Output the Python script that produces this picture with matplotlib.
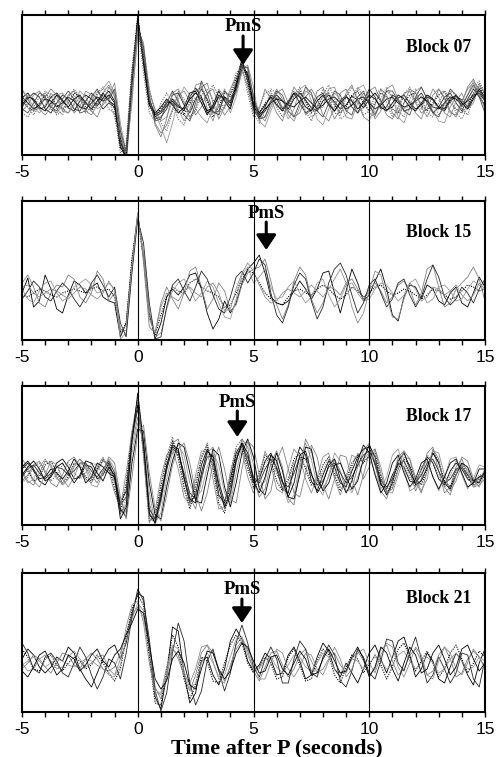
import numpy as np
import matplotlib.pyplot as plt

# time axis of the traces, seconds after P (0.25 s samples)
t = np.arange(-5, 15.001, 0.25)

block_names = ["Block 07", "Block 15", "Block 17", "Block 21"]
pms_time = [4.55, 5.55, 4.3, 4.5]

# amplitudes (arbitrary units), one list per trace
block07 = [
    [5, 10, 2, -6, -4, 6, 10, 3, -5, -8, 2, 8, 4, -3, 5, 12, 2, -35, -52, 25,
     82, 42, 2, -14, -10, -3, 4, -2, -8, 6, 15, 6, -10, -6, 8, 4, -3, 18, 38, 26,
     -2, -14, -8, 2, 8, 2, -6, 4, 10, 3, -5, -8, 2, 8, 1, -6, -2, 7, 3, -5,
     4, 10, 2, -7, -4, 5, 8, 0, -6, -2, 6, 3, -5, -8, 2, 7, 3, -4, 6, 12, 4],
    [-8, -2, 8, 12, 4, -6, -10, -2, 8, 12, 4, -8, -12, -2, 10, 18, 8, -30, -55, 10,
     70, 50, 8, -20, -30, -22, -6, 8, 12, 2, -12, -4, 10, 14, -2, -12, -4, 12, 30, 32,
     8, -12, -18, -4, 10, 14, 0, -14, -10, 6, 14, 4, -12, -18, -4, 10, 14, 2, -10, -4,
     12, 16, 2, -12, -16, -4, 10, 12, 0, -10, -6, 8, 14, 4, -10, -12, 2, 14, 20, 8, -4],
    [2, -4, -8, 0, 8, 6, -2, -6, 0, 10, 6, -4, -8, 0, 8, 4, -6, -45, -48, 30,
     88, 38, -4, -12, -6, 2, 0, -8, -12, 0, 12, 16, 2, -14, -4, 10, 8, 24, 42, 20,
     -8, -10, 0, 6, 0, -8, -4, 8, 12, 2, -10, -4, 6, 10, -2, -10, -4, 8, 12, 0,
     -8, 0, 10, 6, -6, -10, 0, 8, 10, -2, -8, 0, 8, 12, 0, -6, -10, -2, 10, 16, 8],
    [12, 6, -4, -10, -2, 10, 4, -8, -10, 0, 12, 6, -4, 8, 14, 22, 10, -25, -60, 5,
     65, 55, 15, -10, -24, -40, -20, 4, 16, 8, -6, -14, -20, -4, 14, 6, -10, 6, 32, 38,
     16, -18, -24, -8, 6, -4, -16, -6, 14, 18, 2, -16, -22, -6, 10, 4, -8, -2, 14, 18,
     4, -10, -2, 12, 6, -14, -20, -4, 12, 16, 4, -8, -18, -20, -4, 6, -2, 8, 22, 14, 6],
    [-4, 4, 10, 6, -6, -10, 0, 8, 4, -6, -8, 2, 10, 4, -6, 0, -4, -40, -50, 20,
     78, 44, 0, -16, -14, -6, 8, 10, -2, -10, 4, 14, 4, -10, -8, 6, 2, 14, 36, 30,
     -6, -16, -4, 8, 4, -6, 2, 10, 0, -10, -6, 6, 10, 0, -8, 2, 8, -4, -10, 2,
     14, 6, -6, -4, 8, 4, -8, -6, 4, 10, 0, -10, -4, 6, 10, 0, -8, 4, 14, 6, -2],
    [0, 8, 4, -6, -12, -4, 8, 10, 0, -10, -4, 12, 8, -6, -2, 6, 20, -20, -50, 0,
     74, 60, 10, -6, -18, -14, 2, -6, -18, -8, 18, 20, -6, -18, 2, 14, 0, 10, 40, 34,
     4, -8, -14, 2, 14, 4, -12, -18, -4, 12, 8, -6, -4, 14, 16, 0, -14, -16, 0, 10,
     0, -16, -8, 14, 18, 4, -6, 2, -10, -16, 0, 14, 6, -10, -14, 2, 10, -6, 0, 18, 10],
    [6, 0, -6, -2, 4, 2, -4, 0, 6, 2, -4, -6, 0, 6, 2, 8, 0, -38, -56, 18,
     84, 48, 4, -12, -8, 0, 2, -4, -6, 4, 10, 4, -8, -4, 6, 6, 0, 20, 44, 22,
     -4, -12, -6, 0, 4, 2, -2, -4, 2, 6, 0, -6, -2, 4, 6, 0, -6, -2, 4, 6,
     0, -6, -2, 4, 6, 0, -4, -2, 2, 6, 2, -4, -6, 0, 6, 4, -2, 2, 8, 10, 2],
    [-10, -14, -4, 6, 10, 0, -12, -8, 6, 14, 6, -2, 2, 12, 6, -6, -10, -50, -42, 35,
     80, 30, -10, -18, 0, 10, 0, -16, -22, -6, 6, 0, 8, 18, 6, -6, 10, 30, 36, 10,
     -14, -4, 10, 12, -4, -14, -2, 12, 6, -8, -18, -4, 14, 6, -10, -12, 6, 16, 4, -12,
     -8, 8, 14, 0, -14, -8, 8, 16, 2, -6, 8, 4, -12, -4, 12, 8, -6, -12, 6, 20, 12],
    [14, 4, -8, -4, 6, 14, 8, -6, -10, -2, 6, 2, -8, -14, 0, 16, 6, -42, -58, 12,
     72, 52, 6, -22, -34, -16, 10, 14, 0, -14, -6, 16, 20, 0, -16, -4, 14, 26, 34, 16,
     -10, -6, 14, 4, -10, -18, 0, 16, 8, -12, -6, 12, 16, -2, -16, -6, 10, 18, 2, -14,
     -18, -2, 14, 8, -10, -16, 0, 14, 10, -4, -14, -2, 14, 6, -8, -14, 0, 16, 24, 10, -6],
    [-2, 6, 4, -4, -8, 0, 8, 2, -4, 4, 8, 0, -6, 2, 10, 2, -2, -44, -54, 22,
     86, 40, -2, -10, -4, 4, -2, -10, -4, 10, 12, 0, -12, -2, 12, 2, -6, 16, 40, 28,
     0, -10, -2, 6, -2, -8, 0, 10, 6, -4, -8, 2, 8, -2, -8, 0, 6, 2, -6, 0,
     8, 4, -4, -8, 0, 8, 4, -4, -8, 0, 8, 4, -4, -6, 4, 8, 0, -6, 4, 14, 6],
    [8, -4, -12, -2, 12, 8, -6, -12, 2, 8, -2, -10, -4, 10, 16, 4, -14, -36, -52, 24,
     76, 46, 12, -8, -20, -28, -8, 12, 4, -16, -8, 8, 14, 4, -12, -2, 2, 22, 40, 24,
     -10, -20, -6, 14, 10, -6, -10, 6, 16, 0, -14, -10, 8, 18, 4, -16, -12, 4, 16, 6,
     -10, -14, 4, 16, 6, -8, -14, 4, 14, 6, -10, -14, 0, 12, 6, -10, -16, -4, 16, 22, 4],
    [-6, -10, 0, 10, 6, -4, -8, 4, 12, 4, -10, -8, 6, 14, 2, 4, 14, -28, -48, 28,
     78, 56, 4, -18, -16, 0, 12, 2, -12, -18, 0, 22, 10, -8, -12, 12, 6, 12, 34, 36,
     6, -16, -14, 0, 12, 8, -8, -14, 0, 16, 10, -8, -14, 0, 12, 8, -8, -12, 6, 12,
     -2, -12, 0, 12, 12, 2, -8, -12, 6, 16, 4, -10, -14, 0, 14, 8, -4, 8, 18, 6, -10],
]

block15 = [
    [0, 15, -14, -8, 18, 4, -16, -20, -2, 12, 8, 0, 6, 10, -4, -8, -10, -44, -30, 30,
     78, 38, -20, -46, -30, -4, 4, -2, 6, 18, 20, 4, -20, -36, -26, -8, -20, -10, 10, 24,
     30, 38, 20, -4, -10, -12, -8, 2, 12, 4, -6, 4, 20, 22, 0, -20, 2, 24, 10, -8,
     -2, 12, 24, 4, -22, -28, -4, 8, 6, -6, 8, 4, -8, -12, 0, 6, -10, -14, 0, 16, 6],
    [10, 18, 6, -10, -14, 0, 8, 6, 18, 14, -4, -10, 0, 22, 14, -8, 0, -36, -38, 32,
     80, 30, -34, -40, -10, 6, -6, -16, 0, 22, 26, 6, -16, -6, 10, 2, -18, -12, 8, 20,
     24, 26, 34, 12, -12, -26, -12, 12, 26, 18, -6, -20, -10, 6, 4, -2, 10, 14, 4, -6,
     4, 10, 2, -10, -4, 8, 12, 4, -12, 0, 24, 28, 6, -14, -10, 4, 10, 16, 26, 14, -8],
    [-2, -4, 0, 4, 2, -2, -4, 0, 2, 4, 2, 0, 4, 6, 2, 4, -4, -40, -30, 34,
     76, 36, -22, -42, -22, -4, 6, 2, 0, 10, 14, 6, 2, 0, -4, -14, -12, 0, 14, 22,
     20, 10, 0, -6, -10, -12, -4, 2, 4, 0, -2, 4, 8, 4, -2, -6, -2, 6, 2, -4,
     0, 6, 8, 2, -2, 0, 4, 2, -2, -6, -2, 4, 2, -2, -6, -4, 2, 8, 6, 2, 4],
    [4, -6, -10, 2, 10, 12, 0, -8, -4, 6, 10, 14, 8, 0, 2, 10, 4, -46, -40, 24,
     76, 40, -18, -44, -40, -16, 2, 10, 14, 4, -8, 0, 12, 6, -10, -24, -26, -6, 18, 26,
     10, 16, 24, 6, -6, -4, 6, 12, 0, -10, -4, 10, 14, -2, -14, -6, 8, 10, 0, -8,
     -6, 4, 10, 8, 0, -8, -2, 10, 14, 2, -10, -6, 6, 8, 2, -8, -6, 4, 12, 8, 2],
    [-6, 2, 12, 6, -4, -8, 2, 10, 4, -6, -14, -4, 10, 18, 8, -4, 6, -30, -44, 20,
     74, 50, -10, -46, -44, -14, 8, 14, 2, -8, 6, 22, 14, -2, -16, -20, -4, 16, 22, 10,
     20, 34, 28, 0, -22, -30, -14, 8, 20, 14, -8, -26, -14, 10, 24, 30, 18, -2, -20, -10,
     8, 14, 0, -14, -6, 10, 14, -2, -14, -4, 14, 28, 16, -4, -12, -6, 6, 0, -10, 4, 14],
    [6, 8, 0, -4, 0, 4, 2, -2, -6, 0, 6, 4, -2, -6, 0, 12, 2, -38, -32, 28,
     80, 34, -26, -40, -14, 0, -4, -8, 2, 6, 0, -4, 6, 10, 0, -18, -16, 4, 20, 30,
     22, 8, -4, -10, -8, 0, 4, 0, -4, 2, 8, 2, -4, 4, 14, 24, 10, -14, -30, -20,
     2, 22, 18, -4, -24, -26, -6, 10, 4, -8, -4, 6, 4, -2, 2, 8, -2, -8, -2, 10, 4],
]

block17 = [
    [4, 10, 2, -8, -12, -2, 10, 14, 6, -6, -4, 8, 6, -6, -2, 10, -6, -30, -18, 38,
     68, 24, -42, -48, -20, 6, 26, 22, -6, -30, -22, 8, 24, 12, -22, -30, -6, 20, 30, 10,
     -10, -6, 12, 20, 4, -16, -20, 6, 26, 18, -8, -18, -2, 12, 6, -10, -14, 2, 16, 24,
     26, 8, -12, -16, -2, 10, 6, -8, -10, 4, 16, 10, -6, -12, 2, 10, 4, -6, -10, -4, 0],
    [-8, -2, 8, 12, 2, -10, -14, -2, 12, 16, 6, -6, -10, 2, 12, 8, -8, -40, -32, 28,
     56, 30, -30, -52, -30, 2, 30, 34, 8, -24, -36, -8, 20, 26, -4, -36, -24, 10, 34, 26,
     -6, -24, -16, 10, 22, 6, -26, -32, 4, 34, 22, -6, -16, -4, 14, 2, -18, -16, 6, 22,
     30, 10, -18, -26, -6, 16, 22, 2, -18, -6, 20, 26, 2, -20, -14, 6, 14, 0, -14, -8, 4],
    [10, 2, -8, -4, 8, 12, 0, -10, -4, 10, 8, -4, -8, 4, 14, 6, -16, -38, -10, 40,
     72, 20, -48, -44, -12, 14, 32, 16, -14, -36, -14, 16, 28, 4, -30, -40, -10, 18, 26, 4,
     -14, 0, 18, 12, -8, -18, -6, 14, 20, 4, -12, -8, 8, 16, -2, -18, -8, 10, 18, 10,
     18, 20, -4, -20, -14, 4, 14, 8, -6, -12, 4, 20, 12, -8, -14, 2, 10, -4, -12, -6, -4],
    [0, -10, -6, 6, 14, 6, -6, -10, 0, 8, 14, 4, -12, -14, 0, 14, 4, -28, -40, 20,
     50, 34, -20, -50, -40, -6, 20, 28, 18, -10, -24, -18, 6, 20, 8, -20, -30, 0, 28, 32,
     8, -14, -8, 18, 14, -10, -30, -22, 10, 30, 14, -14, -22, -2, 20, 12, -8, -20, -4, 14,
     20, 0, -16, -4, 18, 24, 4, -18, -14, 6, 12, -4, -18, -4, 14, 16, -2, -16, -6, 8, 6],
    [-4, 4, 8, 0, -6, 0, 6, 4, -2, 2, 10, 10, 2, -4, 4, 12, 0, -32, -24, 34,
     64, 28, -36, -46, -24, 4, 24, 20, 0, -20, -26, -4, 16, 18, -10, -28, -14, 14, 28, 16,
     -4, -10, 4, 14, 6, -10, -14, 0, 16, 14, -2, -12, -8, 6, 10, 0, -10, -4, 8, 18,
     22, 10, -8, -14, -6, 8, 12, 0, -10, -2, 10, 14, 2, -10, -6, 4, 6, -2, -8, -4, -2],
    [14, 6, -8, -14, -2, 12, 8, -6, -14, -4, 10, 6, -6, 6, 16, 2, -20, -34, 0, 42,
     74, 16, -50, -38, -4, 18, 24, 4, -24, -32, -2, 22, 22, -6, -36, -34, 0, 24, 22, -4,
     -20, -4, 22, 8, -16, -20, 4, 24, 16, -6, -20, -4, 16, 20, -6, -22, -4, 18, 14, -6,
     6, 24, 6, -18, -20, -2, 16, 14, -4, -18, -6, 22, 20, -2, -18, -8, 8, 4, -14, -12, -6],
    [6, 12, 4, -6, -4, 4, 0, -6, 2, 14, 6, -10, -4, 10, 6, 0, -4, -36, -44, 10,
     44, 42, -10, -42, -46, -14, 12, 30, 26, 0, -28, -30, -2, 24, 18, -14, -34, -10, 20, 34,
     16, -16, -22, 2, 20, 2, -24, -26, -2, 26, 24, -4, -18, -10, 8, 10, -4, -16, -8, 14,
     28, 16, -10, -22, -10, 12, 20, 6, -12, -8, 6, 20, 10, -10, -16, -2, 10, 6, -8, -10, 2],
    [-10, -4, 6, 10, 0, -8, -2, 8, 10, 0, -6, 0, 10, 8, -2, 4, -10, -42, -26, 36,
     76, 26, -44, -50, -16, 16, 36, 14, -18, -30, -8, 14, 30, 6, -24, -32, 0, 26, 34, 12,
     -16, -8, 10, 16, 0, -14, -10, 10, 14, 6, -10, -12, 2, 14, 4, -14, -12, 6, 20, 12,
     16, 14, -6, -18, -8, 10, 10, -4, -14, 2, 18, 12, -4, -14, -2, 12, 8, -6, -12, -2, -2],
    [2, -8, -12, 0, 12, 8, -4, -12, -6, 6, 14, 8, -2, -10, 2, 16, 10, -24, -46, -4,
     40, 48, 0, -36, -48, -22, 8, 24, 30, 10, -20, -38, -20, 10, 26, 4, -26, -30, 4, 32,
     26, -2, -26, -18, 12, 26, 4, -20, -24, 0, 28, 16, -12, -26, -6, 18, 16, -6, -22, -2,
     20, 24, 0, -20, -16, 4, 22, 14, -8, -20, 2, 24, 14, -14, -22, -2, 16, 12, -6, -14, 0],
    [-2, 6, 12, 4, -8, -4, 6, 10, 0, -10, -2, 12, 10, 0, -8, 6, -2, -46, -34, 32,
     80, 30, -40, -50, -26, 8, 28, 24, -4, -26, -30, 0, 22, 16, -14, -34, -20, 12, 30, 20,
     -8, -20, -4, 18, 12, -8, -24, -10, 18, 22, 0, -20, -10, 8, 14, -6, -20, -8, 12, 28,
     20, -2, -20, -10, 10, 18, 0, -14, -6, 10, 14, -4, -16, -4, 10, 14, 0, -14, -10, 4, 4],
]

block21 = [
    [4, 14, 8, -4, -10, -4, 6, 2, 16, 10, -6, -16, -24, -10, 4, 14, 18, 4, 20, 50,
     70, 66, 14, -34, -46, -12, 36, 32, -10, -40, -30, 2, 6, -12, -22, -6, 22, 34, 24, 2,
     -8, -2, 10, 4, -12, -10, 8, 16, 2, -16, -12, 6, 20, 12, -6, -14, 0, -10, -20, -6,
     10, 18, 4, -10, 6, 22, 26, 8, -14, -6, 10, 2, -16, -20, -4, 10, 2, -12, -22, 0, 14],
    [-6, 0, 8, 4, -4, -10, 0, 10, 8, -2, -6, 4, 10, 4, -6, -8, -4, 10, 30, 48,
     56, 46, 10, -24, -36, -14, 14, 8, -14, -28, -12, 10, 18, 10, -8, -18, -4, 18, 26, 12,
     -8, -18, -4, 10, 12, -2, -14, -6, 8, 14, 2, -10, -6, 4, 10, -2, -10, 4, 12, 2,
     -12, -6, 14, 18, 2, -12, -6, 8, 14, 2, -12, -8, 8, 16, 4, -14, -10, 4, 12, 6, -4],
    [14, 6, -6, -8, 4, 8, -2, -8, 0, 6, 2, -6, -2, 8, 0, -10, -18, -6, 26, 54,
     68, 58, 6, -40, -42, -6, 28, 16, -16, -36, -22, 6, 2, -18, -20, 0, 18, 28, 20, 0,
     -10, -4, 6, 0, -16, -14, 6, 14, -2, -18, -16, 2, 14, 8, -12, -20, -4, 8, 4, -10,
     -2, 8, -2, -16, -4, 14, 20, 6, -8, 2, 12, 0, -14, -6, 10, 18, 4, -10, 0, 12, 6],
    [-2, 2, 6, 2, -4, 0, 4, 2, -2, -4, 0, 4, 2, -2, -6, -12, -14, -2, 24, 44,
     60, 52, 14, -26, -32, -10, 18, 14, -8, -26, -20, 0, 10, 0, -14, -12, 6, 24, 26, 8,
     -6, -6, 4, 6, -4, -10, -2, 8, 6, -4, -8, 0, 10, 6, -6, -10, -2, 4, 2, -6,
     0, 6, 2, -6, -2, 8, 12, 2, -6, 0, 6, 0, -10, -6, 4, 10, 2, -6, -4, 6, 2],
    [20, 10, -6, -10, 6, 10, 2, -10, -14, 0, 16, 6, -12, -26, -14, 4, 0, -16, 10, 46,
     74, 62, 24, -28, -48, -30, 10, 40, 22, -20, -42, -28, 2, 14, -8, -28, -10, 20, 38, 20,
     -4, -14, 4, 16, 4, -20, -20, 4, 22, 14, -10, -14, 6, 18, 8, -18, -24, -8, 14, 6,
     -10, -16, 2, 24, 22, 0, -8, 10, 26, 4, -20, -12, 6, -6, -20, -10, 10, 8, -16, -24, 4],
    [0, -8, -6, 4, 8, 2, -6, -4, 6, 12, 4, -4, 0, 6, 8, -6, -12, 4, 36, 58,
     62, 40, 0, -30, -30, -4, 16, 4, -12, -20, -6, 16, 18, 2, -16, -20, -2, 14, 22, 14,
     0, -16, -16, 0, 14, 10, -6, -14, -4, 10, 8, -6, -12, 2, 16, 4, -14, -6, 10, 14,
     0, -10, 8, 20, 16, -4, -14, 0, 16, 8, -12, -16, 2, 16, 10, -6, -12, 0, 14, 6, -6],
    [-8, -14, -4, 8, 12, 0, -12, -6, 8, 4, -8, -2, 8, 14, 2, -4, 8, 14, 28, 40,
     54, 50, 18, -16, -26, -18, 4, 12, 0, -22, -26, -6, 12, 10, -6, -16, -8, 10, 20, 16,
     2, -10, -8, 6, 8, -6, -12, 0, 12, 4, -12, -10, 4, 14, 2, -10, -8, 6, 16, 4,
     -14, -4, 16, 10, -6, -18, 0, 16, 8, -10, -6, 10, 18, 4, -12, -4, 14, 18, 4, -8, 0],
]

blocks = [block07, block15, block17, block21]

# drawing styles (one per trace, cycled)
styles = [("k", "-"), ("0.5", "-"), ("k", ":"), ("0.6", "-"),
          ("0.15", "-"), ("0.55", "-"), ("k", "-"), ("0.4", ":"),
          ("0.5", "-"), ("k", "-"), ("0.45", ":"), ("0.3", "-")]
ylims = [(-52, 88), (-47, 92), (-52, 87), (-49, 90)]
# panel top / bottom in pixels from the top of the picture
panel_px = [(15, 155), (201, 340), (386, 525), (573, 712)]
label_y = [0.765, 0.77, 0.78, 0.82]
pms_txt = [76, 80, 71, 73]
pms_arrow = [(67, 38), (71, 43), (62, 36), (64, 40)]

W, H = 498, 757
fig = plt.figure(figsize=(W / 100, H / 100), dpi=100)
serif = "Liberation Serif"

for i, traces in enumerate(blocks):
    top, bot = panel_px[i]
    ax = fig.add_axes([22 / W, 1 - bot / H, 463 / W, (bot - top) / H])
    for j, tr in enumerate(traces):
        assert len(tr) == len(t), (i, j, len(tr))
        c, ls = styles[j % len(styles)]
        if ls == ":":
            ax.plot(t, tr, color=c, lw=0.8, ls=(0, (1, 1.2)))
        else:
            ax.plot(t, tr, color=c, lw=0.6, ls=ls)
    for v in (0, 5, 10):
        ax.axvline(v, color="k", lw=0.8)
    ax.set_xlim(-5, 15)
    ax.set_ylim(*ylims[i])
    ax.set_yticks([])
    ax.set_xticks([-5, 0, 5, 10, 15])
    ax.set_xticks(np.arange(-5, 16, 1), minor=True)
    ax.tick_params(axis="x", which="both", direction="out", length=3.5, width=1,
                   top=True, pad=3.5)
    ax.set_xticklabels(["-5", "0", "5", "10", "15"], fontsize=12.5,
                       family="Liberation Sans")
    for s in ax.spines.values():
        s.set_linewidth(1.5)

    ax.text(0.97, label_y[i], block_names[i], transform=ax.transAxes, ha="right",
            va="center", fontsize=12.7, fontweight="bold", family=serif)
    ax.text(pms_time[i], pms_txt[i], "PmS", ha="center", va="center",
            fontsize=13.5, fontweight="bold", family=serif)
    y0, y1 = pms_arrow[i]
    ax.annotate("", xy=(pms_time[i], y1), xytext=(pms_time[i], y0),
                arrowprops=dict(arrowstyle="-|>,head_width=0.5,head_length=0.75",
                                lw=2.2, color="k", mutation_scale=12,
                                shrinkA=0, shrinkB=0))

fig.text(277 / W, 1 - 748 / H, "Time after P (seconds)", ha="center", va="center",
         fontsize=16, fontweight="bold", family=serif)

fig.savefig("out.png", dpi=100)
